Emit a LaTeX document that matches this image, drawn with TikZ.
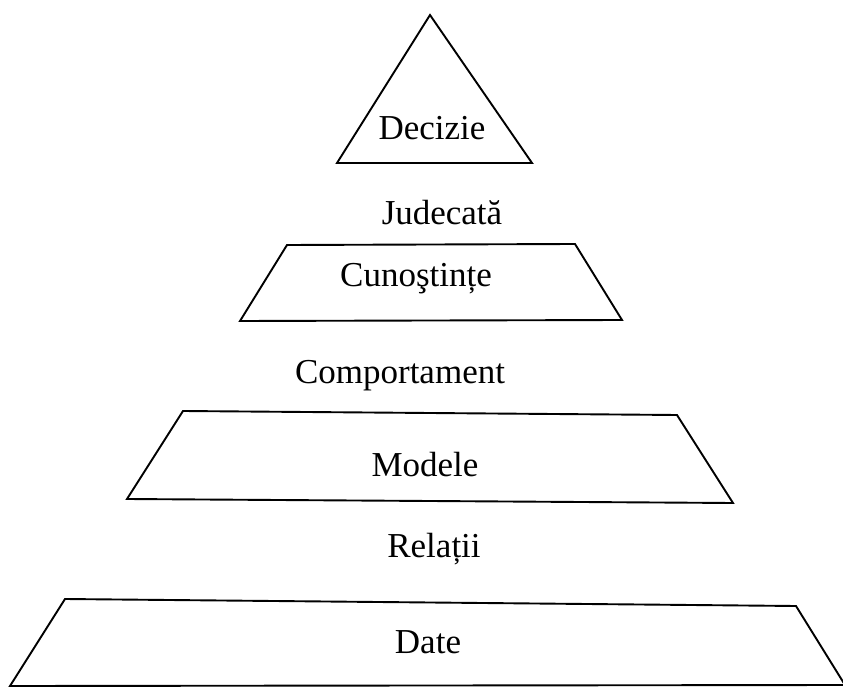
\documentclass[tikz,border=0pt]{standalone}
\usepackage{fontspec}
\setmainfont{Liberation Serif}
\begin{document}
\begin{tikzpicture}[x=1pt,y=-1pt,
  level/.style={draw=black,line width=1.9pt,line join=miter},
  lbl/.style={anchor=base,inner sep=0pt,font=\fontsize{35}{40}\selectfont}]
\useasboundingbox (0,0) rectangle (843,692);
% pyramid levels, top to bottom
\draw[level] (430,15) -- (532,163) -- (337,163) -- cycle;
\draw[level] (287,245) -- (575,244) -- (622,320) -- (240,321) -- cycle;
\draw[level] (183,411) -- (677,415) -- (733,503) -- (127,499) -- cycle;
\draw[level] (65,599) -- (796,606) -- (845,685) -- (10,686) -- cycle;
% level names
\node[lbl] (decizie) at (432,140) {Decizie};
\node[lbl] (cunostinte) at (416,287) {Cunoştințe};
\node[lbl] (modele) at (425,476) {Modele};
\node[lbl] (date) at (428,653) {Date};
% transitions between levels
\node[lbl] (judecata) at (442,225) {Judecată};
\node[lbl] (comportament) at (400,384) {Comportament};
\node[lbl] (relatii) at (434,557) {Relații};
\end{tikzpicture}
\end{document}
